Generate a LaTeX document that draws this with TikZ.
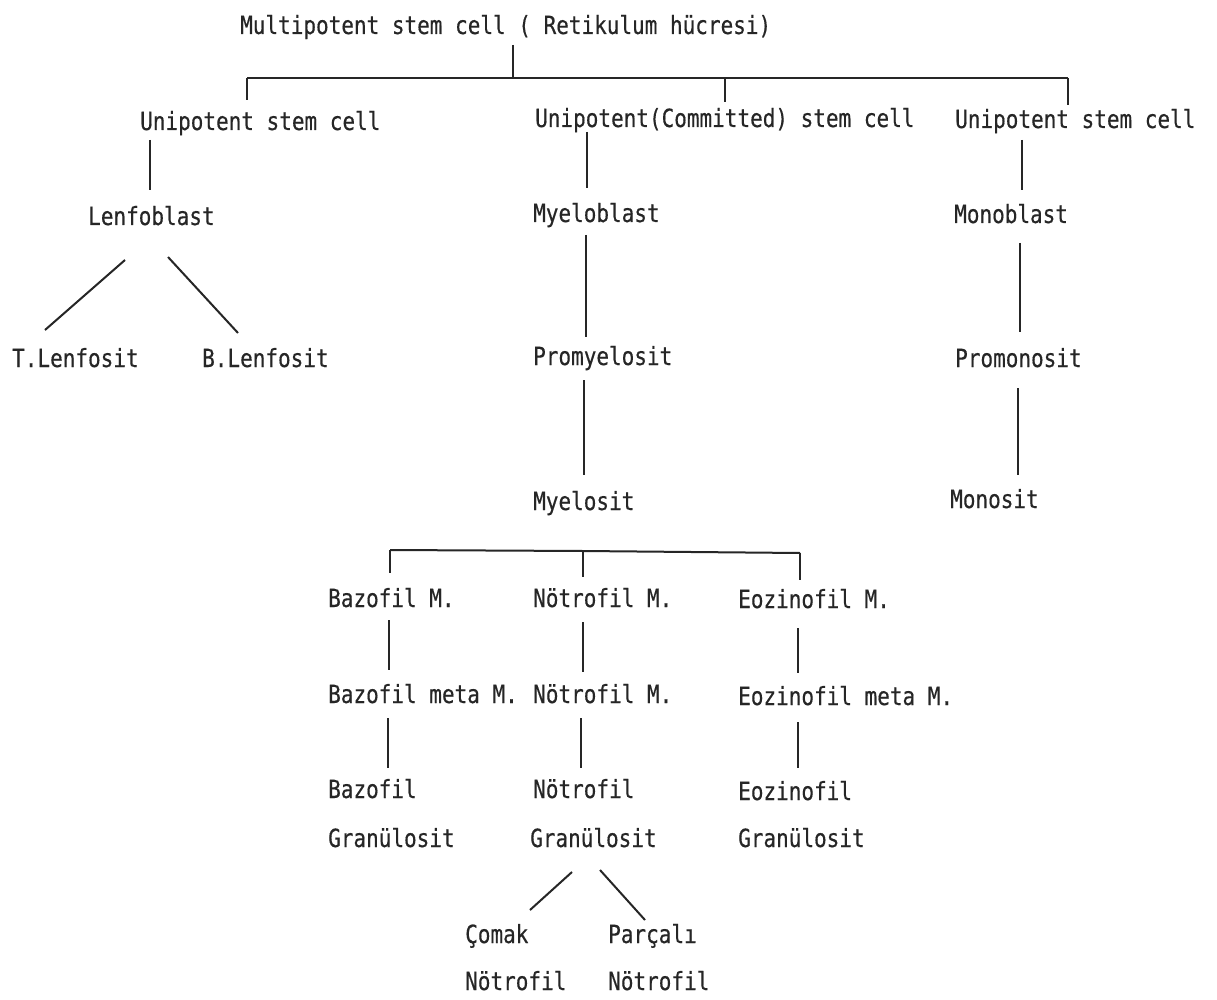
\documentclass[tikz,border=0pt]{standalone}
\usepackage{fontspec}
\newfontfamily\twfont[FakeStretch=0.84,FakeBold=0.4]{DejaVu Sans Mono}
\definecolor{ink}{HTML}{262626}
\begin{document}
\begin{tikzpicture}[x=1pt,y=-1pt,
  lbl/.style={anchor=base west,inner sep=0pt,text=ink,font=\twfont\fontsize{25}{30}\selectfont},
  conn/.style={draw=ink,line width=2pt}]
\path[use as bounding box,fill=white] (0,0) rectangle (1217,1000);

% texts
\node[lbl] (title) at (240,34) {Multipotent stem cell ( Retikulum hücresi)};
\node[lbl] (u1) at (140,130) {Unipotent stem cell};
\node[lbl] (u2) at (535,127) {Unipotent(Committed) stem cell};
\node[lbl] (u3) at (955,128) {Unipotent stem cell};
\node[lbl] (lenfoblast) at (88,225) {Lenfoblast};
\node[lbl] (tlen) at (12,367) {T.Lenfosit};
\node[lbl] (blen) at (202,367) {B.Lenfosit};
\node[lbl] (myeloblast) at (533,222) {Myeloblast};
\node[lbl] (promyelosit) at (533,365) {Promyelosit};
\node[lbl] (myelosit) at (533,510) {Myelosit};
\node[lbl] (monoblast) at (954,223) {Monoblast};
\node[lbl] (promonosit) at (955,367) {Promonosit};
\node[lbl] (monosit) at (950,508) {Monosit};
\node[lbl] (bazM) at (328,607) {Bazofil M.};
\node[lbl] (notM) at (533,607) {Nötrofil M.};
\node[lbl] (eozM) at (738,608) {Eozinofil M.};
\node[lbl] (bazmeta) at (328,703) {Bazofil meta M.};
\node[lbl] (notMb) at (533,703) {Nötrofil M.};
\node[lbl] (eozmeta) at (738,705) {Eozinofil meta M.};
\node[lbl] (bazc) at (328,798) {Bazofil};
\node[lbl] (notc) at (533,798) {Nötrofil};
\node[lbl] (eozc) at (738,800) {Eozinofil};
\node[lbl] (granA) at (328,847) {Granülosit};
\node[lbl] (granB) at (530,847) {Granülosit};
\node[lbl] (granC) at (738,847) {Granülosit};
\node[lbl] (comak) at (465,943) {Çomak};
\node[lbl] (parcali) at (608,943) {Parçalı};
\node[lbl] (notd) at (465,990) {Nötrofil};
\node[lbl] (note) at (608,990) {Nötrofil};

% connector end points
\coordinate (t0) at (513,45);
\coordinate (t1) at (513,78);
\coordinate (bL) at (247,78);
\coordinate (bM) at (725,78);
\coordinate (bR) at (1068,78);
\coordinate (dL) at (247,100);
\coordinate (dM) at (725,102);
\coordinate (dR) at (1068,105);

\coordinate (l1a) at (150,140); \coordinate (l1b) at (150,190);
\coordinate (l2a) at (125,260); \coordinate (l2b) at (45,330);
\coordinate (l3a) at (168,257); \coordinate (l3b) at (238,333);

\coordinate (m1a) at (587,132); \coordinate (m1b) at (587,188);
\coordinate (m2a) at (586,235); \coordinate (m2b) at (586,337);
\coordinate (m3a) at (584,380); \coordinate (m3b) at (584,475);

\coordinate (r1a) at (1022,140); \coordinate (r1b) at (1022,190);
\coordinate (r2a) at (1020,243); \coordinate (r2b) at (1020,332);
\coordinate (r3a) at (1018,388); \coordinate (r3b) at (1018,475);

\coordinate (gL) at (390,550); \coordinate (gM) at (583,551); \coordinate (gR) at (800,553);
\coordinate (gLd) at (390,573); \coordinate (gMd) at (583,577); \coordinate (gRd) at (800,580);

\coordinate (a1) at (389,620); \coordinate (a2) at (389,670);
\coordinate (b1) at (583,622); \coordinate (b2) at (583,672);
\coordinate (c1) at (798,628); \coordinate (c2) at (798,673);
\coordinate (a3) at (388,718); \coordinate (a4) at (388,768);
\coordinate (b3) at (581,718); \coordinate (b4) at (581,768);
\coordinate (c3) at (798,722); \coordinate (c4) at (798,768);

\coordinate (n1a) at (572,872); \coordinate (n1b) at (530,910);
\coordinate (n2a) at (600,870); \coordinate (n2b) at (645,920);

% connectors
\draw[conn] (t0) -- (t1);
\draw[conn] (bL) -- (bR);
\draw[conn] (bL) -- (dL);
\draw[conn] (bM) -- (dM);
\draw[conn] (bR) -- (dR);

\draw[conn] (l1a) -- (l1b);
\draw[conn] (l2a) -- (l2b);
\draw[conn] (l3a) -- (l3b);

\draw[conn] (m1a) -- (m1b);
\draw[conn] (m2a) -- (m2b);
\draw[conn] (m3a) -- (m3b);

\draw[conn] (r1a) -- (r1b);
\draw[conn] (r2a) -- (r2b);
\draw[conn] (r3a) -- (r3b);

\draw[conn] (gL) -- (gM) -- (gR);
\draw[conn] (gL) -- (gLd);
\draw[conn] (gM) -- (gMd);
\draw[conn] (gR) -- (gRd);

\draw[conn] (a1) -- (a2);
\draw[conn] (b1) -- (b2);
\draw[conn] (c1) -- (c2);
\draw[conn] (a3) -- (a4);
\draw[conn] (b3) -- (b4);
\draw[conn] (c3) -- (c4);

\draw[conn] (n1a) -- (n1b);
\draw[conn] (n2a) -- (n2b);
\end{tikzpicture}
\end{document}
